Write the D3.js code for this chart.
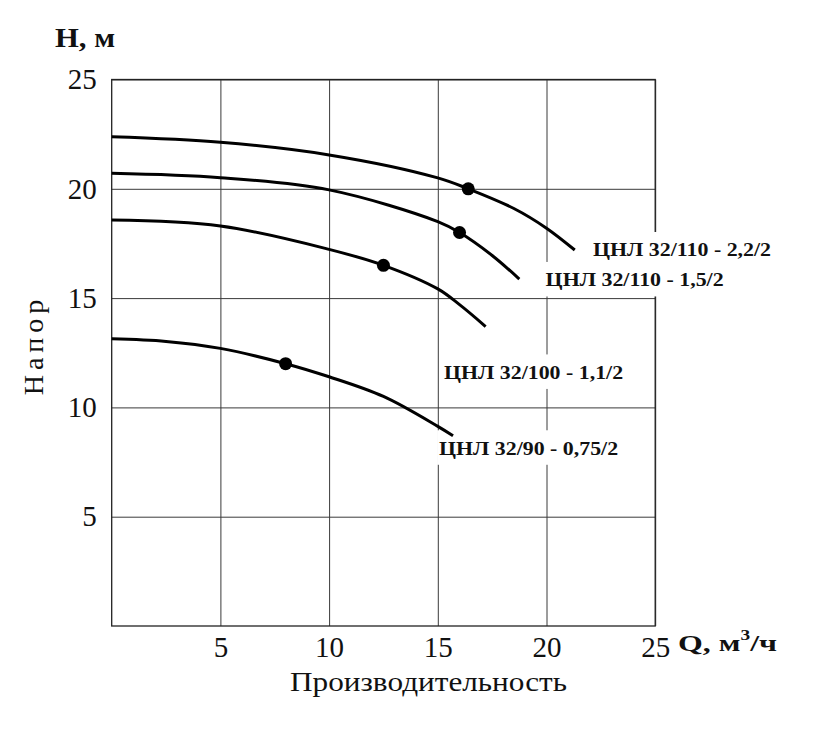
<!DOCTYPE html>
<html>
<head>
<meta charset="utf-8">
<script src="https://cdn.jsdelivr.net/npm/d3@7"></script>
<style>
  body { margin: 0; background: #fff; }
</style>
</head>
<body>
<svg id="chart" width="835" height="731"></svg>
<script>
// axis ticks
var qTicks = [5, 10, 15, 20, 25];
var hTicks = [5, 10, 15, 20, 25];

// pump curves (Q, m3/h -> H, m)
var q22 = [0, 5, 10, 15, 16.4, 18.5, 20, 21.3];
var h22 = [22.38, 22.13, 21.55, 20.5, 20.0, 19.1, 18.2, 17.2];

var q15 = [0, 5, 10, 15, 16, 17.5, 18.75];
var h15 = [20.71, 20.51, 19.95, 18.5, 18.0, 16.95, 15.87];

var q11 = [0, 5, 10, 12.5, 15, 16, 17.2];
var h11 = [18.57, 18.3, 17.23, 16.5, 15.42, 14.7, 13.7];

var q075 = [0, 2.5, 5, 8, 10, 12.5, 15, 15.7];
var h075 = [13.14, 13.02, 12.7, 12.0, 11.4, 10.5, 9.13, 8.7];

// working points
var dotQ = [16.4, 16, 12.5, 8];
var dotH = [20, 18, 16.5, 12];

var names = ["ЦНЛ 32/110 - 2,2/2", "ЦНЛ 32/110 - 1,5/2", "ЦНЛ 32/100 - 1,1/2", "ЦНЛ 32/90 - 0,75/2"];

var svg = d3.select("#chart");
var x = d3.scaleLinear().domain([0, 25]).range([111.7, 655.2]);
var y = d3.scaleLinear().domain([0, 25]).range([626, 79.5]);
var plotH = y(0) - y(25),
    plotW = x(25) - x(0);
var serif = "'Liberation Serif', 'Times New Roman', serif";

// grid + tick labels via axes
var xAxis = svg.append("g")
    .attr("transform", "translate(0," + y(0) + ")")
    .call(d3.axisBottom(x).tickValues(qTicks).tickSizeInner(-plotH).tickSizeOuter(0).tickPadding(10));
var yAxis = svg.append("g")
    .attr("transform", "translate(" + x(0) + ",0)")
    .call(d3.axisLeft(y).tickValues(hTicks).tickSizeInner(-plotW).tickSizeOuter(0).tickPadding(15));

[xAxis, yAxis].forEach(function(a){
    a.select(".domain").remove();
    a.selectAll(".tick line").attr("stroke", "#3a3a3a").attr("stroke-width", 1);
    a.selectAll(".tick text").attr("fill", "#111").style("font-family", serif).style("font-size", "29px");
});

// frame
svg.append("rect")
    .attr("x", x(0)).attr("y", y(25))
    .attr("width", plotW).attr("height", plotH)
    .attr("fill", "none").attr("stroke", "#222").attr("stroke-width", 1.3);

// curve labels with white backing (they cut through the grid)
var labelAt = [[22.14, 17.2], [19.96, 15.83], [15.29, 11.6], [15.06, 8.13]];
var labelW = [178, 178, 179, 179];
var labG = svg.append("g");
names.forEach(function(n, i){
    var lx = x(labelAt[i][0]), ly = y(labelAt[i][1]);
    labG.append("rect")
        .attr("x", lx - 2).attr("y", ly - 18)
        .attr("width", labelW[i] + 8).attr("height", 34.5)
        .attr("fill", "#fff");
    labG.append("text")
        .attr("x", lx).attr("y", ly)
        .attr("dy", "0.35em")
        .attr("textLength", labelW[i])
        .attr("lengthAdjust", "spacingAndGlyphs")
        .style("font-family", serif)
        .style("font-weight", "bold")
        .style("font-size", "18px")
        .attr("fill", "#111")
        .text(n);
});

// curves
var line = d3.line()
    .x(function(d){ return x(d[0]); })
    .y(function(d){ return y(d[1]); })
    .curve(d3.curveCatmullRom);
var series = [[q22, h22], [q15, h15], [q11, h11], [q075, h075]];
series.forEach(function(s){
    svg.append("path")
        .datum(d3.zip(s[0], s[1]))
        .attr("d", line)
        .attr("fill", "none")
        .attr("stroke", "#000")
        .attr("stroke-width", 3);
});

svg.selectAll("circle.pt")
    .data(d3.zip(dotQ, dotH))
    .enter().append("circle")
    .attr("class", "pt")
    .attr("cx", function(d){ return x(d[0]); })
    .attr("cy", function(d){ return y(d[1]); })
    .attr("r", 6.5)
    .attr("fill", "#000");

// axis titles
svg.append("text")
    .attr("x", 55).attr("y", 46.7)
    .attr("textLength", 60).attr("lengthAdjust", "spacingAndGlyphs")
    .style("font-family", serif).style("font-weight", "bold").style("font-size", "28px")
    .attr("fill", "#111")
    .text("H, м");

var qt = svg.append("text")
    .attr("x", 678).attr("y", 651)
    .attr("textLength", 99).attr("lengthAdjust", "spacingAndGlyphs")
    .style("font-family", serif).style("font-weight", "bold").style("font-size", "23px")
    .attr("fill", "#111");
qt.append("tspan").text("Q, м");
qt.append("tspan").attr("dy", -11).style("font-size", "14px").text("3");
qt.append("tspan").attr("dy", 11).text("/ч");

svg.append("text")
    .attr("transform", "translate(43,345) rotate(-90)")
    .attr("text-anchor", "middle")
    .style("font-family", serif).style("font-size", "28px")
    .style("letter-spacing", "5px")
    .attr("fill", "#111")
    .text("Напор");

svg.append("text")
    .attr("x", 290).attr("y", 691)
    .attr("textLength", 277).attr("lengthAdjust", "spacingAndGlyphs")
    .style("font-family", serif).style("font-size", "27px")
    .attr("fill", "#111")
    .text("Производительность");
</script>
</body>
</html>
